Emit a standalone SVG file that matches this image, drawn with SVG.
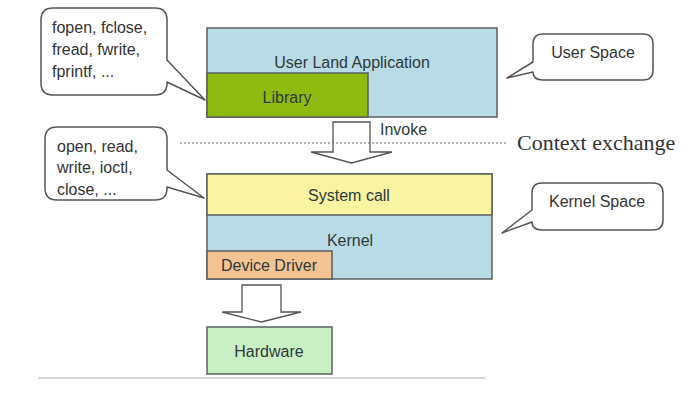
<svg xmlns="http://www.w3.org/2000/svg" width="692" height="405" viewBox="0 0 692 405">
<style>
text{font-family:"Liberation Sans",Arial,sans-serif;font-size:16px;fill:#2e3a3a}
.box{stroke:#5a5f5f;stroke-width:1.5}
.call{fill:#fff;stroke:#555;stroke-width:1.5;stroke-linejoin:round}
.arr{fill:#fff;stroke:#555;stroke-width:1.3;stroke-linejoin:miter}
.c{text-anchor:middle}
.t{font-size:16px;fill:#333}
</style>
<rect width="692" height="405" fill="#fff"/>
<g id="connectors">
<polygon class="arr" points="333,122 370,122 370,152 392,152 351.5,163 311,152 333,152"/>
<polygon class="arr" points="242,285 281,285 281,312 301,312 261.5,322 222,312 242,312"/>
<line x1="180" y1="143" x2="507" y2="143" stroke="#666" stroke-width="1" stroke-dasharray="2,2"/>
<line x1="38" y1="378" x2="485" y2="378" stroke="#c8c8c8" stroke-width="1.5"/>
</g>
<g id="userland">
<rect class="box" x="207" y="28" width="290" height="89" fill="#b9dbe6"/>
<text class="c" x="352" y="68">User Land Application</text>
</g>
<g id="library">
<rect class="box" x="207" y="73" width="161" height="44" fill="#8fba10"/>
<text class="c" x="287" y="103">Library</text>
</g>
<g id="invoke-label">
<text x="380" y="135">Invoke</text>
</g>
<g id="context-label">
<text x="517" y="150" style="font-family:'Liberation Serif','Times New Roman',serif;font-size:22px;fill:#333">Context exchange</text>
</g>
<g id="kernel">
<rect class="box" x="207" y="174" width="285" height="105" fill="#b9dbe6"/>
<text class="c" x="350" y="246">Kernel</text>
</g>
<g id="syscall">
<rect class="box" x="207" y="174" width="285" height="41" fill="#f8f4a2"/>
<text class="c" x="349" y="201">System call</text>
</g>
<g id="driver">
<rect class="box" x="207" y="251" width="125" height="28" fill="#f5c391"/>
<text class="c" x="269" y="271">Device Driver</text>
</g>
<g id="hardware">
<rect class="box" x="207" y="327" width="125" height="47" fill="#c9f0c4"/>
<text class="c" x="269" y="357">Hardware</text>
</g>
<g id="callout-lib">
<path class="call" d="M53,8 H155 Q167,8 167,20 V60 L205,100 L167,82 V83 Q167,95 155,95 H53 Q41,95 41,83 V20 Q41,8 53,8 Z"/>
<text class="t" x="52" y="33">fopen, fclose,</text>
<text class="t" x="52" y="55">fread, fwrite,</text>
<text class="t" x="52" y="77">fprintf, ...</text>
</g>
<g id="callout-sys">
<path class="call" d="M57,127 H155 Q167,127 167,139 V170 L204,198 L167,187 V188 Q167,200 155,200 H57 Q45,200 45,188 V139 Q45,127 57,127 Z"/>
<text class="t" x="57" y="152">open, read,</text>
<text class="t" x="57" y="173">write, ioctl,</text>
<text class="t" x="57" y="195">close, ...</text>
</g>
<g id="callout-user">
<path class="call" d="M543,34 H643 Q653,34 653,44 V70 Q653,80 643,80 H543 Q533,80 533,72 L507,78 L533,62 V44 Q533,34 543,34 Z"/>
<text class="c t" x="593" y="58">User Space</text>
</g>
<g id="callout-kernel">
<path class="call" d="M542,183 H653 Q663,183 663,193 V220 Q663,230 653,230 H542 Q532,230 532,222 L502,233 L532,210 V193 Q532,183 542,183 Z"/>
<text class="c t" x="597" y="207">Kernel Space</text>
</g>
</svg>
